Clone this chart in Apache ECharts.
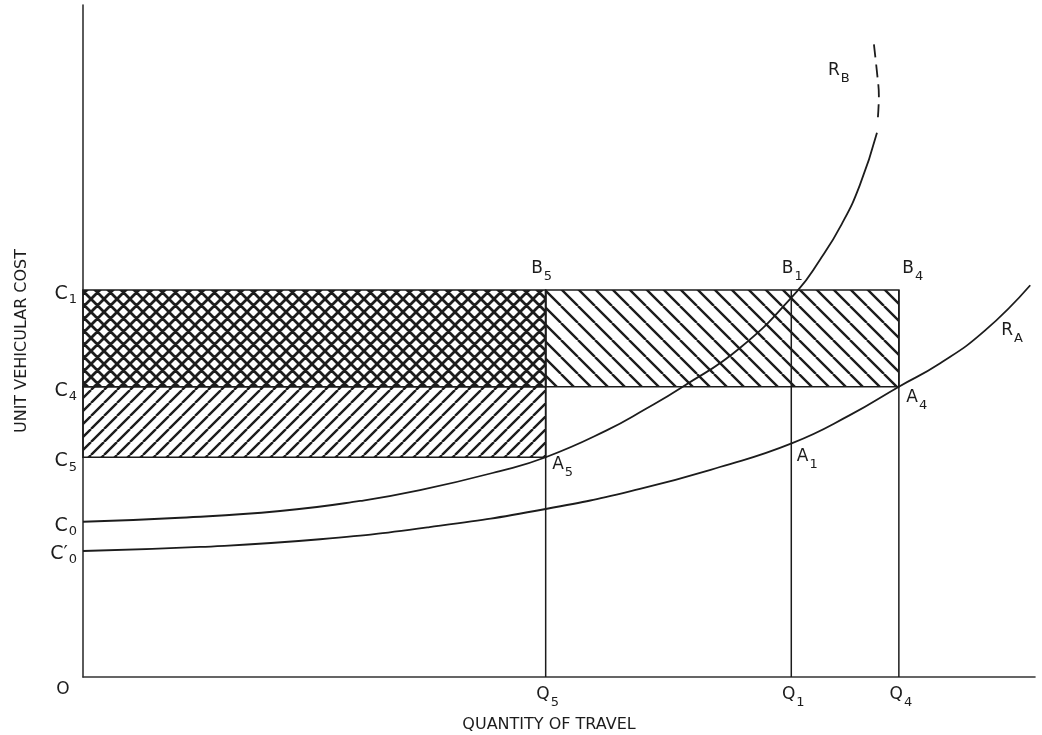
<!DOCTYPE html>
<html><head><meta charset="utf-8">
<script src="https://cdn.jsdelivr.net/npm/echarts@6/dist/echarts.min.js"></script>
<style>html,body{margin:0;padding:0;background:#fff}#c{width:1042px;height:735px}</style>
</head><body><div id="c"></div>
<script>
// ---- data (schematic units: quantity 0..100, cost 0..100) ----
const qSubs = ['5', '1', '4'];
const qValues = [48.6, 74.4, 85.7];
const cSubs = ['1', '4', '5', '0', '0'];
const cPrimes = ['', '', '', '', '\u2032'];
const cValues = [57.6, 43.2, 32.7, 23.1, 18.9];

const raX = [0, 12.3, 24.9, 36.4, 48.6, 58.5, 66.9, 74.5, 80.6, 85.7, 90.0, 94.7, 99.5];
const raY = [18.75, 19.35, 20.5, 22.3, 25.0, 28.0, 31.25, 34.8, 39.0, 43.2, 46.65, 51.5, 58.3];
const rbX = [0, 10.2, 20.7, 29.1, 35.4, 43.8, 48.6, 55.0, 59.0, 63.0, 69.0, 75.0, 77.4, 79.7, 81.6, 83.4];
const rbY = [23.1, 23.7, 24.7, 26.2, 27.8, 30.65, 32.7, 36.7, 39.8, 43.2, 48.95, 57.4, 62.05, 67.4, 73.2, 81.0];
const rbDashX = [83.5, 83.6, 83.4, 83.0];
const rbDashY = [83.3, 86.5, 90.0, 95.1];

const ptMain = ['B', 'B', 'B', 'A', 'A', 'A', 'R', 'R'];
const ptSub = ['5', '1', '4', '5', '1', '4', 'A', 'B'];
const ptX = [qValues[0], qValues[1], qValues[2], qValues[0], qValues[1], qValues[2], 96.5, 78.3];
const ptY = [cValues[0], cValues[0], cValues[0], cValues[2], raY[7], cValues[1], 52.7, 91.4];

// ---- styling ----
const INK = '#1c1c1c';
const FONT = 'DejaVu Sans';
const ptOffsets = [[-14, -29], [-9, -29], [4, -29], [7, -1], [6, 5], [8, 3], [0, 0], [0, 0]];

function makePattern(size, dirs, lw) {
  const cv = document.createElement('canvas');
  cv.width = size; cv.height = size;
  const ctx = cv.getContext('2d');
  ctx.strokeStyle = INK; ctx.lineWidth = lw;
  ctx.beginPath();
  for (const d of dirs) {
    for (let k = -1; k <= 1; k++) {
      if (d === '/') { ctx.moveTo(k * size, size); ctx.lineTo(k * size + size, 0); }
      else { ctx.moveTo(k * size, 0); ctx.lineTo(k * size + size, size); }
    }
  }
  ctx.stroke();
  return { image: cv, repeat: 'repeat' };
}
const patterns = {
  cross: makePattern(13, ['/', '\\'], 2.8),
  slash: makePattern(13, ['/'], 2.4),
  back: makePattern(17, ['\\'], 2.4)
};

// hatched regions built from the key values: [x0, x1, y0, y1]
const hatchRects = [
  [0, qValues[0], cValues[1], cValues[0]],
  [0, qValues[0], cValues[2], cValues[1]],
  [qValues[0], qValues[2], cValues[1], cValues[0]]
];
const hatchKinds = ['cross', 'slash', 'back'];

const zip = (xs, ys) => xs.map((x, i) => [x, ys[i]]);

const textBase = { fontFamily: FONT, color: INK, opacity: 1 };
const chart = echarts.init(document.getElementById('c'), null, { renderer: 'canvas' });

const guideSeries = qValues.map(q => ({
  type: 'line', data: [[q, 0], [q, cValues[0]]], symbol: 'none', silent: true, z: 3,
  lineStyle: { color: INK, width: 1.5 }
}));

chart.setOption({
  animation: false,
  backgroundColor: '#ffffff',
  grid: { left: 83, right: 7, top: 5, bottom: 58, containLabel: false, outerBoundsMode: 'none' },
  xAxis: {
    type: 'value', min: 0, max: 100,
    axisLine: { show: true, lineStyle: { color: '#333', width: 1.6 } },
    axisTick: { show: false }, splitLine: { show: false },
    axisLabel: {
      customValues: [0].concat(qValues), margin: 4.5, hideOverlap: false,
      formatter: v => {
        if (v === 0) return '{o|O}';
        const i = qValues.indexOf(v);
        return '{qm|Q}{qs|' + qSubs[i] + '}';
      },
      rich: {
        o: Object.assign({ fontSize: 17, lineHeight: 17, padding: [0, 40, 0, 0] }, textBase),
        qm: Object.assign({ fontSize: 17, lineHeight: 17, padding: [5, 0, 0, 4], verticalAlign: 'top' }, textBase),
        qs: Object.assign({ fontSize: 13, lineHeight: 13, padding: [15, 0, 0, 1], verticalAlign: 'top' }, textBase)
      }
    },
    name: 'QUANTITY OF TRAVEL', nameLocation: 'middle', nameGap: 40,
    nameTextStyle: { fontFamily: FONT, fontSize: 16, color: INK, padding: [0, 20, 0, 0] }
  },
  yAxis: {
    type: 'value', min: 0, max: 100,
    axisLine: { show: true, lineStyle: { color: '#333', width: 1.6 } },
    axisTick: { show: false }, splitLine: { show: false },
    axisLabel: {
      customValues: cValues, margin: 6, hideOverlap: false,
      formatter: v => {
        const i = cValues.indexOf(v);
        return '{cm|C' + cPrimes[i] + '}{cs|' + cSubs[i] + '}';
      },
      rich: {
        cm: Object.assign({ fontSize: 19, lineHeight: 19, padding: [4, 0, 0, 0], verticalAlign: 'top' }, textBase),
        cs: Object.assign({ fontSize: 13, lineHeight: 13, padding: [13, 0, 0, 1], verticalAlign: 'top' }, textBase)
      }
    },
    name: 'UNIT VEHICULAR COST', nameLocation: 'middle', nameGap: 53, nameRotate: 90,
    nameTextStyle: { fontFamily: FONT, fontSize: 16, color: INK }
  },
  series: [
    {
      type: 'custom', z: 1, silent: true,
      data: hatchRects,
      renderItem: (params, api) => {
        const p0 = api.coord([api.value(0), api.value(3)]);
        const p1 = api.coord([api.value(1), api.value(2)]);
        return {
          type: 'rect',
          shape: { x: p0[0], y: p0[1], width: p1[0] - p0[0], height: p1[1] - p0[1] },
          style: { fill: patterns[hatchKinds[params.dataIndex]], stroke: INK, lineWidth: 1.6 }
        };
      }
    },
    ...guideSeries,
    {
      name: 'RA', type: 'line', data: zip(raX, raY), smooth: 0.5,
      symbol: 'none', z: 4, lineStyle: { color: INK, width: 1.8 }
    },
    {
      name: 'RB', type: 'line', data: zip(rbX, rbY), smooth: 0.5,
      symbol: 'none', z: 4, lineStyle: { color: INK, width: 1.8 }
    },
    {
      name: 'RB ext', type: 'line', data: zip(rbDashX, rbDashY), smooth: 0.4,
      symbol: 'none', z: 4, lineStyle: { color: INK, width: 1.8, type: [13, 7] }
    },
    {
      type: 'scatter', z: 5, silent: true, symbolSize: 1,
      itemStyle: { color: 'transparent' },
      data: zip(ptX, ptY),
      label: {
        show: true, color: INK, opacity: 1, textBorderWidth: 0,
        position: [0, 0],
        formatter: p => '{m|' + ptMain[p.dataIndex] + '}{s|' + ptSub[p.dataIndex] + '}',
        rich: {
          m: Object.assign({ fontSize: 17, lineHeight: 17, verticalAlign: 'top' }, textBase),
          s: Object.assign({ fontSize: 13, lineHeight: 13, padding: [10, 0, 0, 1], verticalAlign: 'top' }, textBase)
        }
      },
      labelLayout: p => ({
        x: p.rect.x + ptOffsets[p.dataIndex][0],
        y: p.rect.y + ptOffsets[p.dataIndex][1],
        align: 'left', verticalAlign: 'top'
      })
    }
  ]
});
</script></body></html>
